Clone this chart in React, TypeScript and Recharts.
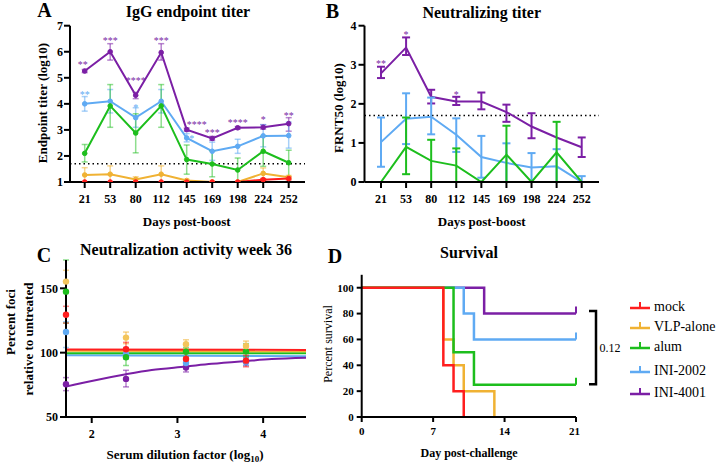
import React from 'react';
import { LineChart, Line, XAxis, YAxis, ErrorBar, ReferenceLine, ComposedChart, Scatter } from 'recharts';

const FONT = '"Liberation Serif", "DejaVu Serif", serif';

const groupNames = ['mock', 'VLP-alone', 'alum', 'INI-2002', 'INI-4001'];
const groupColors = ['#FF1E1E', '#F0B233', '#1DBE1D', '#5FAAF3', '#7B1FA5'];
const groupErrColors = ['rgba(255,30,30,0.55)', 'rgba(240,178,51,0.55)', 'rgba(29,190,29,0.5)', 'rgba(95,170,243,0.55)', 'rgba(123,31,165,0.55)'];

// ---------- Panel A: IgG endpoint titer ----------
const days = [21, 53, 80, 112, 145, 169, 198, 224, 252];
const aTicks = [1, 2, 3, 4, 5, 6, 7];
const aMock = [1, 1, 1, 1, 1, 1, 1, 1.09, 1.13];
const aMockLo = [null, null, null, null, null, null, null, 1.05, 1.08];
const aMockHi = [null, null, null, null, null, null, null, 1.13, 1.2];
const aVlp = [1.27, 1.3, 1.1, 1.3, 1.06, 1.0, 1.0, 1.33, 1.18];
const aVlpLo = [1.0, 1.0, 1.0, 1.0, 1.0, null, null, 1.13, 1.12];
const aVlpHi = [1.55, 1.62, 1.2, 1.62, 1.1, null, null, 1.54, 1.25];
const aAlum = [2.1, 3.92, 2.88, 3.92, 1.86, 1.69, 1.46, 2.18, 1.74];
const aAlumLo = [1.77, 3.1, 2.12, 3.1, 1.3, 1.2, 1.0, 1.6, 1.0];
const aAlumHi = [2.44, 4.74, 3.62, 4.74, 2.42, 2.2, 1.92, 2.76, 2.22];
const a2002 = [4.0, 4.1, 3.47, 4.1, 2.69, 2.18, 2.37, 2.77, 2.78];
const a2002Lo = [3.72, 3.65, 3.1, 3.65, 2.54, 1.83, 2.1, 2.35, 2.3];
const a2002Hi = [4.28, 4.55, 3.85, 4.55, 2.86, 2.53, 2.64, 3.2, 3.3];
const a4001 = [5.26, 6.0, 4.33, 5.97, 3.01, 2.67, 3.08, 3.1, 3.24];
const a4001Lo = [5.2, 5.68, 4.2, 5.68, 2.95, 2.6, 3.03, 3.03, 2.95];
const a4001Hi = [5.32, 6.31, 4.44, 6.31, 3.07, 2.75, 3.13, 3.2, 3.47];
const aStars4001 = ['**', '***', '****', '***', '****', '***', '****', '*', '**'];
const aStars4001Y = [5.57, 6.49, 4.95, 6.49, 3.27, 2.96, 3.34, 3.47, 3.62];
const aStars4001Dx = [-2, 0, 0, 0, 10, 0, 0, 0, 0];
const aStars2002 = ['**', null, '*', null, '*', null, null, null, null];
const aStars2002Y = [4.4, null, 3.93, null, 2.74, null, null, null, null];
const aStars2002Dx = [0, 0, 0, 0, 5, 0, 0, 0, 0];
const aLimit = 1.7;

// ---------- Panel B: Neutralizing titer ----------
const bTicks = [0, 1, 2, 3, 4];
const bMock = [0, 0, 0, 0, 0, 0, 0, 0, 0];
const bAlum = [0, 0.9, 0.54, 0.42, 0, 0.7, 0, 0.76, 0];
const bAlumLo = [null, 0.2, 0.0, 0.0, null, 0.0, null, 0.0, null];
const bAlumHi = [null, 1.65, 1.08, 0.86, null, 1.44, null, 1.54, null];
const b2002 = [1.02, 1.62, 1.67, 1.21, 0.64, 0.49, 0.37, 0.4, 0.0];
const b2002Lo = [0.39, 0.97, 1.22, 0.77, 0.11, 0.0, 0.0, 0.0, 0.0];
const b2002Hi = [1.65, 2.27, 2.16, 1.63, 1.18, 0.99, 0.74, 0.84, 0.15];
const b4001 = [2.78, 3.44, 2.18, 2.06, 2.06, 1.79, 1.42, 1.14, 0.89];
const b4001Lo = [2.66, 3.25, 2.01, 1.97, 1.86, 1.54, 1.12, null, 0.64];
const b4001Hi = [2.95, 3.7, 2.36, 2.18, 2.29, 1.98, 1.76, null, 1.14];
const bStars4001 = ['**', '*', null, '*', null, null, null, null, null];
const bStars4001Y = [3.06, 3.82, null, 2.29, null, null, null, null, null];
const bLimit = 1.7;

// ---------- Panel C: Neutralization activity week 36 ----------
const cX = [1.7, 2.4, 3.1, 3.8];
const cTicksX = [2, 3, 4];
const cTicksY = [50, 100, 150];
const cMock = [129.4, 102.6, 95.1, 93.8];
const cMockLo = [123, 97, 90, 89];
const cMockHi = [136, 108, 100, 98];
const cVlp = [155.2, 111.7, 106.5, 105.2];
const cVlpLo = [147, 107, 103, 101];
const cVlpHi = [164, 116, 110, 109];
const cAlum = [147.4, 96.4, 100.8, 101];
const cAlumLo = [123, 90, 97, 97];
const cAlumHi = [172, 103, 104, 107];
const c2002 = [116, 99, 92, 93];
const c2002Lo = [104, 95, 88, 90];
const c2002Hi = [124, 104, 96, 96];
const c4001 = [75.4, 79.6, 88.4, 93];
const c4001Lo = [70.5, 73.4, 85, 90];
const c4001Hi = [80.6, 86.3, 92, 96];
const cFlatX = [1.7, 4.5];
const cFitMock = [102.5, 102.1];
const cFitVlp = [101.4, 101.0];
const cFitAlum = [99.6, 99.5];
const cFit2002 = [98.0, 97.3];
const cCurveX = [1.7, 2.0, 2.4, 2.7, 3.1, 3.4, 3.8, 4.1, 4.5];
const cFit4001 = [73.6, 78, 83.2, 86.5, 89.2, 91.3, 93.5, 95, 96.1];

// ---------- Panel D: Survival ----------
const dTicksX = [0, 7, 14, 21];
const dTicksY = [0, 20, 40, 60, 80, 100];
const dMockDays = [0, 8, 9, 10];
const dMockPct = [100, 40, 20, 0];
const dVlpDays = [0, 8, 9, 10, 13];
const dVlpPct = [100, 60, 40, 20, 0];
const dAlumDays = [0, 9, 11, 21];
const dAlumPct = [100, 50, 25, 25];
const d2002Days = [0, 10, 11, 21];
const d2002Pct = [100, 80, 60, 60];
const d4001Days = [0, 12, 21];
const d4001Pct = [100, 80, 80];
const pValue = '0.12';

// ---------- helpers ----------
const rel = (v: number[], lo: (number | null)[], hi: (number | null)[]) =>
  v.map((x, i) => (lo[i] == null || hi[i] == null ? null : [Math.max(0, x - (lo[i] as number)), Math.max(0, (hi[i] as number) - x)]));

const aE = [rel(aMock, aMockLo, aMockHi), rel(aVlp, aVlpLo, aVlpHi), rel(aAlum, aAlumLo, aAlumHi), rel(a2002, a2002Lo, a2002Hi), rel(a4001, a4001Lo, a4001Hi)];
const aVals = [aMock, aVlp, aAlum, a2002, a4001];
const aData = days.map((d, i) => ({
  day: d,
  s0: aVals[0][i], s1: aVals[1][i], s2: aVals[2][i], s3: aVals[3][i], s4: aVals[4][i],
  e0: aE[0][i], e1: aE[1][i], e2: aE[2][i], e3: aE[3][i], e4: aE[4][i],
  st4: aStars4001Y[i], st3: aStars2002Y[i],
}));

const bE = [null, null, rel(bAlum, bAlumLo, bAlumHi), rel(b2002, b2002Lo, b2002Hi), rel(b4001, b4001Lo, b4001Hi)];
const bData = days.map((d, i) => ({
  day: d,
  s0: bMock[i], s2: bAlum[i], s3: b2002[i], s4: b4001[i],
  e2: (bE[2] as any)[i], e3: (bE[3] as any)[i], e4: (bE[4] as any)[i],
  st4: bStars4001Y[i],
}));

const cVals = [cMock, cVlp, cAlum, c2002, c4001];
const cLos = [cMockLo, cVlpLo, cAlumLo, c2002Lo, c4001Lo];
const cHis = [cMockHi, cVlpHi, cAlumHi, c2002Hi, c4001Hi];
const cScatter = cVals.map((vals, g) => {
  const e = rel(vals, cLos[g], cHis[g]);
  return cX.map((x, i) => ({ x, y: vals[i], e: e[i] }));
});
const cFlat = [cFitMock, cFitVlp, cFitAlum, cFit2002].map((f) => cFlatX.map((x, i) => ({ x, y: f[i] })));
const cCurve = cCurveX.map((x, i) => ({ x, y: cFit4001[i] }));

const dSeries = [
  [dMockDays, dMockPct], [dVlpDays, dVlpPct], [dAlumDays, dAlumPct], [d2002Days, d2002Pct], [d4001Days, d4001Pct],
].map(([ds, ps]) => ds.map((x, i) => ({ x, y: ps[i] })));

const tickBold = (size: number) => ({ fontSize: size, fontWeight: 700, fill: '#000', fontFamily: FONT });
const axisLine = { stroke: '#000', strokeWidth: 2 };

const starDot = (texts: (string | null)[], dxs: number[], color: string) => (props: any) => {
  const { cx, cy, index } = props;
  const t = texts[index];
  if (!t || cx == null || cy == null || isNaN(cx) || isNaN(cy)) return <g key={`s${index}`} />;
  return (
    <text key={`s${index}`} x={cx + (dxs[index] || 0)} y={cy + 5} textAnchor="middle" fontSize={10} fill={color} fontFamily={FONT}>
      {t}
    </text>
  );
};

const censorDot = (color: string, n: number) => (props: any) => {
  const { cx, cy, index, payload } = props;
  if (index !== n - 1 || !payload || payload.y <= 0) return <g key={`c${index}`} />;
  return <line key={`c${index}`} x1={cx} x2={cx} y1={cy} y2={cy - 7} stroke={color} strokeWidth={2} />;
};

const Txt = ({ x, y, size, weight = 400, rotate = false, children }: any) => (
  <div
    style={{
      position: 'absolute', left: x, top: y, fontSize: size, fontWeight: weight, whiteSpace: 'nowrap', lineHeight: 1,
      transform: `translate(-50%, -50%)${rotate ? ' rotate(-90deg)' : ''}`, fontFamily: FONT, color: '#000',
    }}
  >
    {children}
  </div>
);

const Abs = ({ left, top, children }: any) => <div style={{ position: 'absolute', left, top }}>{children}</div>;

export default function App() {
  const legendY = [308, 328, 348, 372, 394];
  return (
    <div style={{ position: 'absolute', left: 0, top: 0, width: 720, height: 467, background: '#fff', fontFamily: FONT, overflow: 'hidden' }}>
      {/* Panel A */}
      <Abs left={0} top={0}>
        <LineChart width={310} height={235} data={aData} margin={{ top: 25.7, right: 5, bottom: 23, left: 0 }}>
          <XAxis dataKey="day" scale="point" padding={{ left: 14.7, right: 16.3 }} axisLine={axisLine} tickLine={axisLine} tickSize={6} tickMargin={6} tick={tickBold(12)} interval={0} height={30} />
          <YAxis type="number" domain={[1, 7]} ticks={aTicks} allowDataOverflow axisLine={axisLine} tickLine={axisLine} tickSize={6} tickMargin={1} tick={tickBold(12)} width={70} />
          <ReferenceLine y={aLimit} stroke="#000" strokeWidth={1.5} strokeDasharray="1.5 3" />
          {[4, 3, 2, 1, 0].map((g) => (
            <Line key={g} dataKey={`s${g}`} stroke={groupColors[g]} strokeWidth={2} dot={{ r: 2.3, fill: groupColors[g], stroke: groupColors[g], strokeWidth: 1 }} isAnimationActive={false}>
              <ErrorBar dataKey={`e${g}`} width={3} stroke={groupErrColors[g]} strokeWidth={1.5} direction="y" />
            </Line>
          ))}
          <Line dataKey="st4" stroke="none" dot={starDot(aStars4001, aStars4001Dx, groupColors[4])} activeDot={false} isAnimationActive={false} />
          <Line dataKey="st3" stroke="none" dot={starDot(aStars2002, aStars2002Dx, groupColors[3])} activeDot={false} isAnimationActive={false} />
        </LineChart>
      </Abs>

      {/* Panel B */}
      <Abs left={310} top={0}>
        <LineChart width={300} height={235} data={bData} margin={{ top: 25.7, right: 11, bottom: 23, left: 0 }}>
          <XAxis dataKey="day" scale="point" padding={{ left: 16.5, right: 17.3 }} axisLine={axisLine} tickLine={axisLine} tickSize={6} tickMargin={6} tick={tickBold(12)} interval={0} height={30} />
          <YAxis type="number" domain={[0, 4]} ticks={bTicks} allowDataOverflow axisLine={axisLine} tickLine={axisLine} tickSize={6} tickMargin={2} tick={tickBold(12)} width={54.5} />
          <ReferenceLine y={bLimit} stroke="#000" strokeWidth={1.5} strokeDasharray="1.5 3" />
          {[4, 3, 2].map((g) => (
            <Line key={g} dataKey={`s${g}`} stroke={groupColors[g]} strokeWidth={2} dot={false} activeDot={false} isAnimationActive={false}>
              <ErrorBar dataKey={`e${g}`} width={4} stroke={groupColors[g]} strokeWidth={2} direction="y" />
            </Line>
          ))}
          <Line dataKey="s0" stroke={groupColors[0]} strokeWidth={2} dot={false} activeDot={false} isAnimationActive={false} />
          <Line dataKey="st4" stroke="none" dot={starDot(bStars4001, [0, 0, 0, 0, 0, 0, 0, 0, 0], groupColors[4])} activeDot={false} isAnimationActive={false} />
        </LineChart>
      </Abs>

      {/* Panel C */}
      <Abs left={0} top={235}>
        <ComposedChart width={310} height={232} margin={{ top: 25, right: 4, bottom: 20, left: 0 }}>
          <XAxis type="number" dataKey="x" domain={[1.7, 4.5]} ticks={cTicksX} axisLine={axisLine} tickLine={axisLine} tickSize={6} tickMargin={6} tick={tickBold(12)} height={30} />
          <YAxis type="number" dataKey="y" domain={[50, 172]} ticks={cTicksY} axisLine={axisLine} tickLine={axisLine} tickSize={6} tickMargin={2} tick={tickBold(12)} width={66} />
          {[3, 2, 1, 0].map((g) => (
            <Line key={`f${g}`} data={cFlat[g]} dataKey="y" stroke={groupColors[g]} strokeWidth={2} dot={false} activeDot={false} isAnimationActive={false} />
          ))}
          <Line data={cCurve} dataKey="y" type="monotone" stroke={groupColors[4]} strokeWidth={2} dot={false} activeDot={false} isAnimationActive={false} />
          {[4, 3, 2, 1, 0].map((g) => (
            <Scatter
              key={`sc${g}`}
              data={cScatter[g]}
              fill={groupColors[g]}
              isAnimationActive={false}
              shape={(p: any) => <circle cx={p.cx} cy={p.cy} r={3.2} fill={g === 1 ? '#F3C55C' : groupColors[g]} />}
            >
              <ErrorBar dataKey="e" direction="y" width={3} stroke={groupErrColors[g]} strokeWidth={1.5} />
            </Scatter>
          ))}
        </ComposedChart>
      </Abs>

      {/* Panel D */}
      <Abs left={310} top={235}>
        <LineChart width={270} height={232} margin={{ top: 39.8, right: 4, bottom: 20, left: 0 }}>
          <XAxis type="number" dataKey="x" domain={[0, 21]} ticks={dTicksX} axisLine={axisLine} tickLine={axisLine} tickSize={5} tickMargin={5} tick={tickBold(11)} height={30} />
          <YAxis type="number" dataKey="y" domain={[0, 110]} ticks={dTicksY} axisLine={axisLine} tickLine={axisLine} tickSize={5} tickMargin={3} tick={tickBold(11)} width={51.7} />
          {[4, 3, 1, 2, 0].map((g) => (
            <Line
              key={`d${g}`}
              data={dSeries[g]}
              dataKey="y"
              type="stepAfter"
              stroke={groupColors[g]}
              strokeWidth={2.5}
              dot={censorDot(groupColors[g], dSeries[g].length)}
              activeDot={false}
              isAnimationActive={false}
            />
          ))}
        </LineChart>
      </Abs>

      {/* Panel letters and titles */}
      <Txt x={44.5} y={10} size={20} weight={700}>A</Txt>
      <Txt x={332.5} y={11} size={20} weight={700}>B</Txt>
      <Txt x={44} y={255} size={20} weight={700}>C</Txt>
      <Txt x={335} y={256} size={20} weight={700}>D</Txt>
      <Txt x={188} y={12} size={16} weight={700}>IgG endpoint titer</Txt>
      <Txt x={481.7} y={12.5} size={16} weight={700}>Neutralizing titer</Txt>
      <Txt x={186} y={250} size={16} weight={700}>Neutralization activity week 36</Txt>
      <Txt x={469} y={252.5} size={16} weight={700}>Survival</Txt>

      {/* Axis labels */}
      <Txt x={41.7} y={103} size={13} weight={700} rotate>Endpoint titer (log10)</Txt>
      <Txt x={186.7} y={221} size={13} weight={700}>Days post-boost</Txt>
      <Txt x={338} y={108} size={13} weight={700} rotate>FRNT50 (log10)</Txt>
      <Txt x={481.7} y={221} size={13} weight={700}>Days post-boost</Txt>
      <Txt x={10} y={322} size={13} weight={700} rotate>Percent foci</Txt>
      <Txt x={27.5} y={339} size={13} weight={700} rotate>relative to untreated</Txt>
      <Txt x={185} y={456} size={13} weight={700}>
        Serum dilution factor (log<sub style={{ fontSize: 9 }}>10</sub>)
      </Txt>
      <Txt x={328} y={344} size={12} weight={400} rotate>Percent survival</Txt>
      <Txt x={469} y={453} size={12} weight={700}>Day post-challenge</Txt>

      {/* Legend */}
      {groupNames.map((name, g) => (
        <React.Fragment key={name}>
          <svg style={{ position: 'absolute', left: 629, top: legendY[g] - 8 }} width={22} height={12}>
            <line x1={1} x2={21} y1={8} y2={8} stroke={groupColors[g]} strokeWidth={2.5} />
            <line x1={11} x2={11} y1={8} y2={2} stroke={groupColors[g]} strokeWidth={2} />
          </svg>
          <div style={{ position: 'absolute', left: 654, top: legendY[g] - 8, fontSize: 14, lineHeight: 1, fontFamily: FONT, whiteSpace: 'nowrap' }}>{name}</div>
        </React.Fragment>
      ))}

      {/* Significance bracket */}
      <svg style={{ position: 'absolute', left: 585, top: 305 }} width={15} height={85}>
        <path d="M4 6 H11 V79.3 H4" fill="none" stroke="#000" strokeWidth={2.5} />
      </svg>
      <Txt x={610} y={348} size={12} weight={400}>{pValue}</Txt>
    </div>
  );
}
